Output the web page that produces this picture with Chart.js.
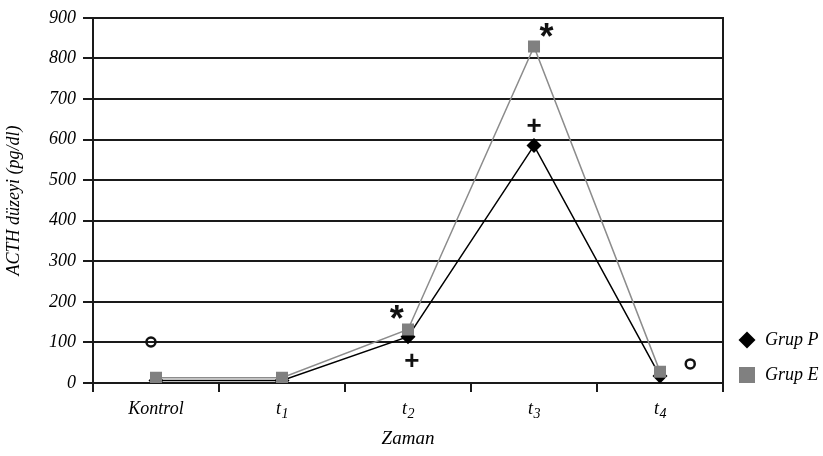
<!DOCTYPE html>
<html>
<head>
<meta charset="utf-8">
<script src="https://cdn.jsdelivr.net/npm/chart.js@4.4.0/dist/chart.umd.min.js"></script>
<style>
  html, body { margin: 0; padding: 0; background: #fff; }
  .wrap { width: 823px; height: 456px; position: relative; }
</style>
</head>
<body>
<div class="wrap"><canvas id="acthChart"></canvas></div>
<script>
// DATA
const categories = ["Kontrol", "t1", "t2", "t3", "t4"];
const grupP = [6, 6, 114, 585, 17];
const grupE = [13, 13, 132, 829, 28];

// significance marks: symbol, category, value, shift inside the category
const markSymbols = ["o", "*", "+", "+", "*", "o"];
const markCats = [0, 2, 2, 3, 3, 4];
const markValues = [101, 174, 57, 636, 870, 47];
const markShift = [-0.04, -0.09, 0.03, 0, 0.1, 0.24];

const SERIF = "'Liberation Serif', 'Times New Roman', serif";
const INK = "#1a1a1a";

// x labels with subscript (t1 -> t + small 1)
const xLabelsPlugin = {
  id: "xLabels",
  afterDraw(chart) {
    const { ctx, scales: { x } } = chart;
    ctx.save();
    ctx.fillStyle = "#000";
    ctx.textBaseline = "middle";
    categories.forEach((lab, i) => {
      const cx = x.getPixelForValue(i);
      const cy = x.top + 26;
      const m = lab.match(/^t(\d)$/);
      if (m) {
        ctx.font = "italic 18px " + SERIF;
        const w1 = ctx.measureText("t").width;
        ctx.font = "italic 14px " + SERIF;
        const w2 = ctx.measureText(m[1]).width;
        const start = cx - (w1 + w2) / 2;
        ctx.font = "italic 18px " + SERIF;
        ctx.textAlign = "left";
        ctx.fillText("t", start, cy);
        ctx.font = "italic 14px " + SERIF;
        ctx.fillText(m[1], start + w1 + 0.5, cy + 5);
      } else {
        ctx.font = "italic 18px " + SERIF;
        ctx.textAlign = "center";
        ctx.fillText(lab, cx, cy);
      }
    });
    ctx.restore();
  }
};

// legend on the right, next to the bottom of the plot
const sideLegendPlugin = {
  id: "sideLegend",
  afterDraw(chart) {
    const { ctx, chartArea } = chart;
    const sets = chart.data.datasets;
    ctx.save();
    sets.forEach((ds, i) => {
      const cy = chartArea.bottom - 8 - (sets.length - 1 - i) * 35;
      const cx = chartArea.right + 24;
      ctx.fillStyle = ds.backgroundColor;
      ctx.beginPath();
      if (ds.pointStyle === "rectRot") {
        ctx.moveTo(cx - 8.5, cy);
        ctx.lineTo(cx, cy - 8.5);
        ctx.lineTo(cx + 8.5, cy);
        ctx.lineTo(cx, cy + 8.5);
        ctx.closePath();
      } else {
        ctx.rect(cx - 8, cy - 8, 16, 16);
      }
      ctx.fill();
      ctx.fillStyle = "#000";
      ctx.font = "italic 18px " + SERIF;
      ctx.textAlign = "left";
      ctx.textBaseline = "middle";
      ctx.fillText(ds.label, cx + 18, cy);
    });
    ctx.restore();
  }
};

// o, * and + marks
const marksPlugin = {
  id: "marks",
  afterDatasetsDraw(chart) {
    const { ctx, scales: { x, y } } = chart;
    const step = x.getPixelForValue(1) - x.getPixelForValue(0);
    ctx.save();
    markSymbols.forEach((s, i) => {
      const px = x.getPixelForValue(markCats[i]) + markShift[i] * step;
      const py = y.getPixelForValue(markValues[i]);
      if (s === "o") {
        ctx.beginPath();
        ctx.arc(px, py, 4.5, 0, Math.PI * 2);
        ctx.lineWidth = 2.5;
        ctx.strokeStyle = "#111";
        ctx.stroke();
        return;
      }
      ctx.font = (s === "*" ? "bold 36px " : "bold 26px ") + "'Liberation Sans', Arial, sans-serif";
      ctx.fillStyle = "#111";
      ctx.textAlign = "center";
      ctx.textBaseline = "alphabetic";
      const tm = ctx.measureText(s);
      ctx.fillText(s, px, py + (tm.actualBoundingBoxAscent - tm.actualBoundingBoxDescent) / 2);
    });
    ctx.restore();
  }
};

new Chart(document.getElementById("acthChart"), {
  type: "line",
  data: {
    labels: categories,
    datasets: [
      {
        label: "Grup P",
        data: grupP,
        borderColor: "#000",
        backgroundColor: "#000",
        borderWidth: 1.5,
        pointStyle: "rectRot",
        pointRadius: 7.5,
        pointBorderWidth: 0,
        order: 1
      },
      {
        label: "Grup E",
        data: grupE,
        borderColor: "#8c8c8c",
        backgroundColor: "#808080",
        borderWidth: 1.5,
        pointStyle: "rect",
        pointRadius: 8.5,
        pointBorderWidth: 0,
        order: 0
      }
    ]
  },
  options: {
    responsive: true,
    maintainAspectRatio: false,
    animation: false,
    layout: { padding: { top: 14, left: 0, right: 100, bottom: 0 } },
    plugins: {
      legend: { display: false },
      tooltip: { enabled: false }
    },
    scales: {
      x: {
        offset: true,
        grid: {
          offset: true,
          drawOnChartArea: false,
          tickLength: 9,
          color: INK,
          lineWidth: 2
        },
        border: { color: INK, width: 2 },
        ticks: { display: false },
        title: {
          display: true,
          text: "Zaman",
          color: "#000",
          font: { family: SERIF, size: 19, style: "italic" },
          padding: { top: 0, bottom: 6 }
        },
        afterFit(scale) { scale.height = 73; }
      },
      y: {
        min: 0,
        max: 900,
        ticks: {
          stepSize: 100,
          padding: 7,
          color: "#000",
          font: { family: SERIF, size: 18, style: "italic" }
        },
        grid: { color: INK, lineWidth: 2, tickLength: 10 },
        border: { color: INK, width: 2 },
        title: {
          display: true,
          text: "ACTH düzeyi (pg/dl)",
          color: "#000",
          font: { family: SERIF, size: 18, style: "italic" },
          padding: { top: 3, bottom: 4 }
        },
        afterFit(scale) { scale.width = 93; }
      },
      y2: {
        position: "right",
        grid: { drawOnChartArea: false, drawTicks: false },
        ticks: { display: false },
        border: { color: INK, width: 2 },
        afterFit(scale) { scale.width = 0; }
      }
    }
  },
  plugins: [xLabelsPlugin, marksPlugin, sideLegendPlugin]
});
</script>
</body>
</html>
